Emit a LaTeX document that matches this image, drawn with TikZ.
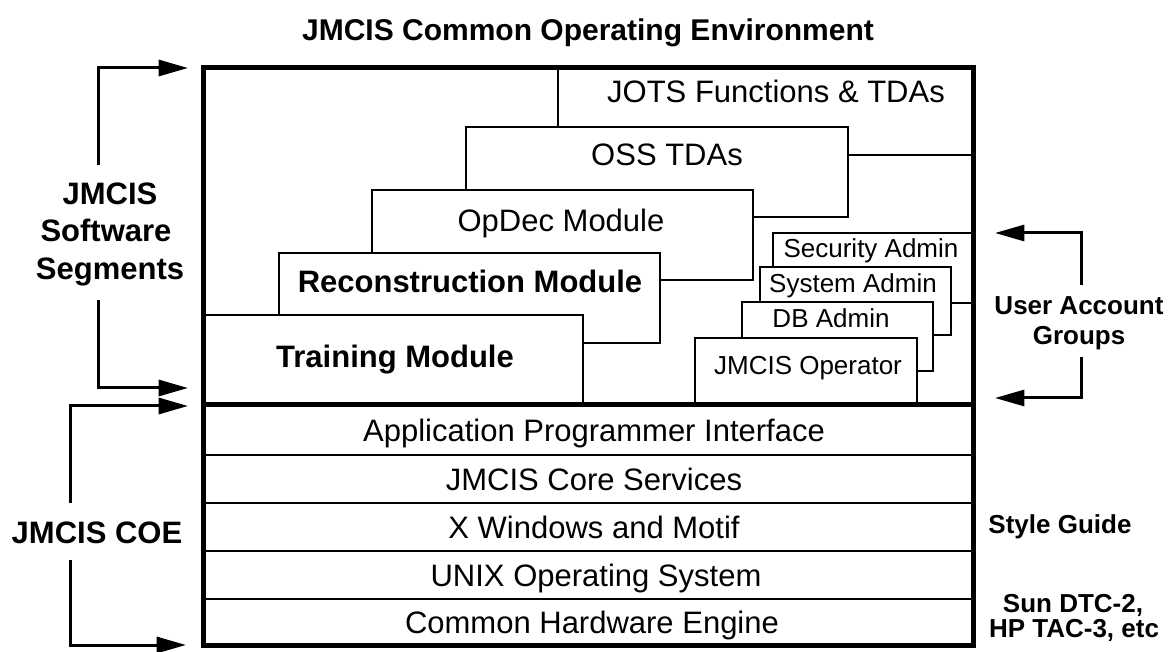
\documentclass[tikz,border=0pt]{standalone}
\usepackage{fontspec}
\setmainfont{Liberation Sans}
\usetikzlibrary{arrows.meta}
\newcommand\fbig{\fontsize{23.25pt}{28pt}\selectfont}
\newcommand\fsmall{\fontsize{19.5pt}{23pt}\selectfont}
\newcommand\fside{\fontsize{19.5pt}{23pt}\selectfont\bfseries}
\begin{document}
\begin{tikzpicture}[x=0.75pt,y=-0.75pt,
  bx/.style={draw=black, fill=white, line width=1.9pt},
  rowline/.style={draw=black, line width=2.2pt},
  thickline/.style={draw=black, line width=3.75pt},
  arr/.style={draw=black, line width=2.25pt, -{Triangle[length=22pt,width=12pt]}},
  lbl/.style={inner sep=0pt, anchor=base, font=\fbig},
  blbl/.style={inner sep=0pt, anchor=base, font=\fbig\bfseries},
  slbl/.style={inner sep=0pt, anchor=base, font=\fsmall},
  rlbl/.style={inner sep=0pt, anchor=base, font=\fside}]
\useasboundingbox (0,0) rectangle (1168,652);
\fill[white] (0,0) rectangle (1168,652);

% title
\node[blbl, font=\fontsize{22.5pt}{27pt}\selectfont\bfseries] (title) at (588,41) {JMCIS Common Operating Environment};

% stacked software segments (back to front)
\draw[bx] (558,68) rectangle (973,155);
\draw[bx] (466,127) rectangle (848,217);
\draw[bx] (372,190) rectangle (753,280);
\draw[bx] (279,253) rectangle (660,343);
\draw[bx] (203,315) rectangle (583,405);

\node[lbl] (jots) at (776,103) {JOTS Functions \& TDAs};
\node[lbl] (oss) at (667,166) {OSS TDAs};
\node[lbl] (opdec) at (561,232) {OpDec Module};
\node[blbl] (recon) at (470,293) {Reconstruction Module};
\node[blbl] (train) at (395,368) {Training Module};

% user account groups
\draw[bx] (773,233) rectangle (973,303);
\draw[bx] (760,267) rectangle (951,335);
\draw[bx] (742,302) rectangle (933,371);
\draw[bx] (695,338) rectangle (917,405);

\node[slbl] (sec) at (871,258) {Security Admin};
\node[slbl] (sys) at (853,293) {System Admin};
\node[slbl] (db) at (831,328) {DB Admin};
\node[slbl] (op) at (808,375) {JMCIS Operator};

% COE rows
\draw[rowline] (203,455) -- (973,455);
\draw[rowline] (203,503) -- (973,503);
\draw[rowline] (203,551) -- (973,551);
\draw[rowline] (203,599) -- (973,599);
\draw[thickline] (203,405) -- (973,405);

\node[lbl] (api) at (594,441) {Application Programmer Interface};
\node[lbl] (core) at (594,490) {JMCIS Core Services};
\node[lbl] (xwin) at (594,538) {X Windows and Motif};
\node[lbl] (unix) at (596,586) {UNIX Operating System};
\node[lbl] (hw) at (592,633) {Common Hardware Engine};

% outer frame
\draw[thickline] (203,68) rectangle (973,645);

% left labels
\node[blbl] (seg1) at (110,205) {JMCIS};
\node[blbl] (seg2) at (106,242) {Software};
\node[blbl] (seg3) at (110,280) {Segments};
\node[blbl] (coe) at (97,543) {JMCIS COE};

% right labels
\node[rlbl] (uag1) at (1079,315) {User Account};
\node[rlbl] (uag2) at (1079,345) {Groups};
\node[rlbl] (style) at (1060,533) {Style Guide};
\node[rlbl] (sun) at (1073,612) {Sun DTC-2,};
\node[rlbl] (hp) at (1074,637) {HP TAC-3, etc};

% arrow end points
\coordinate (a1s) at (98,165);
\coordinate (a1e) at (188,68);
\coordinate (a2s) at (98,300);
\coordinate (a2e) at (188,388);
\coordinate (a3s) at (70,503);
\coordinate (a3e) at (188,406);
\coordinate (a4s) at (70,560);
\coordinate (a4e) at (186,645);
\coordinate (b1s) at (1081,285);
\coordinate (b1e) at (995,233);
\coordinate (b2s) at (1081,357);
\coordinate (b2e) at (995,398);

\draw[arr] (a1s) |- (a1e);
\draw[arr] (a2s) |- (a2e);
\draw[arr] (a3s) |- (a3e);
\draw[arr] (a4s) |- (a4e);
\draw[arr] (b1s) |- (b1e);
\draw[arr] (b2s) |- (b2e);
\end{tikzpicture}
\end{document}
